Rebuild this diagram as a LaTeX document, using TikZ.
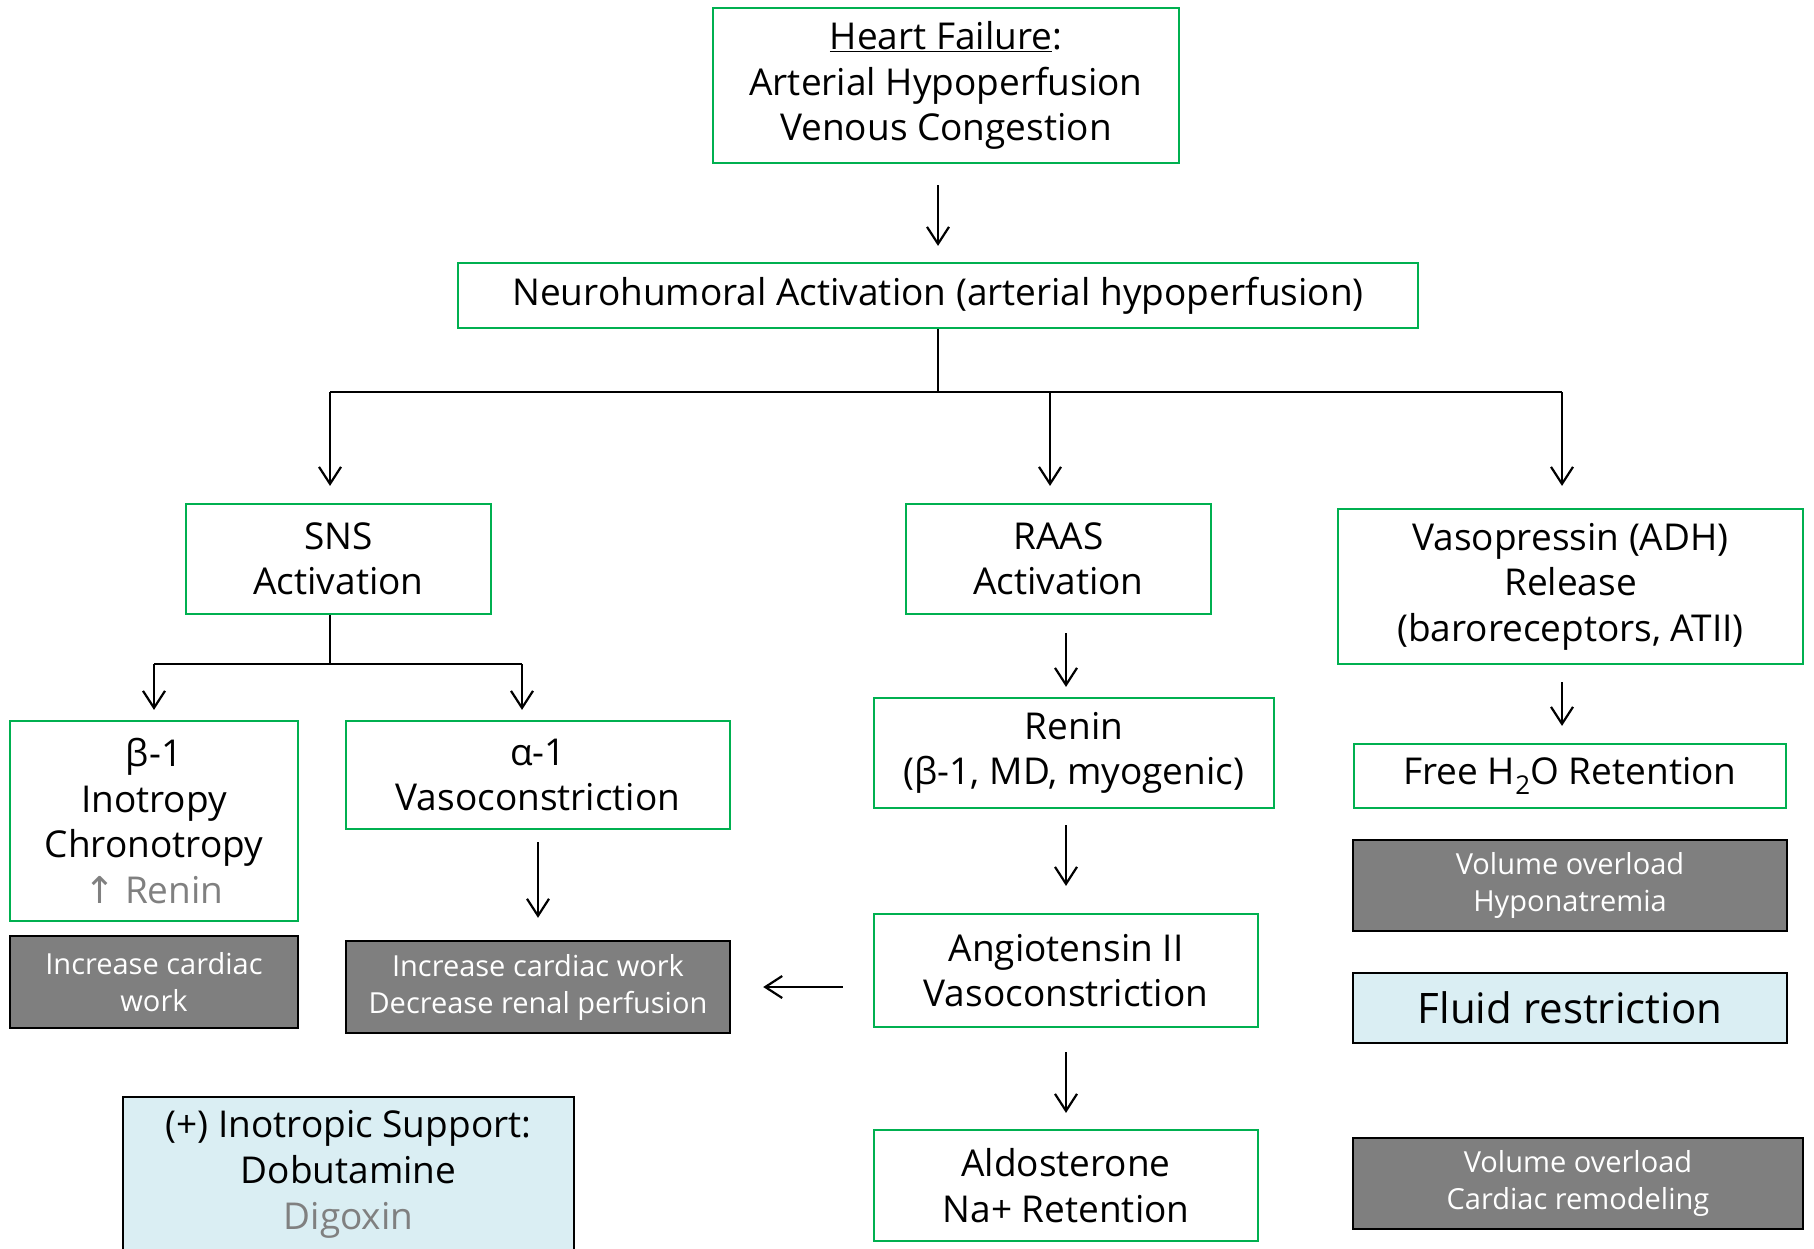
\documentclass[tikz,border=0pt]{standalone}
\usepackage{fontspec}
\setmainfont{Open Sans}
\newfontfamily\arrowfont{DejaVu Sans}
\usetikzlibrary{arrows.meta}

\definecolor{boxgreen}{HTML}{00B050}
\definecolor{effectgray}{HTML}{7F7F7F}
\definecolor{therapyblue}{HTML}{DAEEF3}
\definecolor{softgray}{HTML}{808080}

\tikzset{
  stage/.style={draw=boxgreen, line width=2.2pt, fill=white, inner sep=0pt,
    align=center, font=\fontsize{37}{45.5}\selectfont},
  effect/.style={draw=black, line width=2.4pt, fill=effectgray, text=white,
    inner sep=0pt, align=center, font=\fontsize{29}{37}\selectfont},
  therapy/.style={draw=black, line width=2.2pt, fill=therapyblue, inner sep=0pt,
    align=center},
  flow/.style={line width=2.2pt, -{Straight Barb[length=17pt,width=22pt]}},
  link/.style={line width=2.2pt},
}

\begin{document}
\begin{tikzpicture}[x=1pt,y=-1pt]
\clip (0,0) rectangle (1814,1248);

% top of the cascade
\node[stage, minimum width=466pt, minimum height=155pt] (hf) at (946,85.5)
  {\underline{Heart Failure}:\\Arterial Hypoperfusion\\Venous Congestion};
\node[stage, minimum width=960pt, minimum height=65pt] (nh) at (938,295.5)
  {Neurohumoral Activation (arterial hypoperfusion)};

% three neurohumoral arms
\node[stage, minimum width=305pt, minimum height=110pt] (sns) at (338.5,559)
  {SNS\\Activation};
\node[stage, minimum width=305pt, minimum height=110pt] (raas) at (1058.5,559)
  {RAAS\\Activation};
\node[stage, minimum width=465pt, minimum height=155pt] (vaso) at (1570.5,586.5)
  {Vasopressin (ADH)\\Release\\(baroreceptors, ATII)};

% SNS receptors
\node[stage, minimum width=288pt, minimum height=200pt] (beta) at (154,821)
  {β-1\\Inotropy\\Chronotropy\\{\color{softgray}{\arrowfont ↑} Renin}};
\node[stage, minimum width=384pt, minimum height=108pt] (alpha) at (538,775)
  {α-1\\Vasoconstriction};
\node[effect, minimum width=288pt, minimum height=92pt] (gbeta) at (154,982)
  {Increase cardiac\\work};
\node[effect, minimum width=384pt, minimum height=92pt] (galpha) at (538,987)
  {Increase cardiac work\\Decrease renal perfusion};
\node[therapy, minimum width=451pt, minimum height=155pt,
  font=\fontsize{37}{46}\selectfont] (inotrope) at (348.5,1174.5)
  {(+) Inotropic Support:\\Dobutamine\\{\color{softgray}Digoxin}};

% RAAS chain
\node[stage, minimum width=400pt, minimum height=110pt] (renin) at (1074,753)
  {Renin\\(β-1, MD, myogenic)};
\node[stage, minimum width=384pt, minimum height=113pt] (ang) at (1066,970.5)
  {Angiotensin II\\Vasoconstriction};
\node[stage, minimum width=384pt, minimum height=111pt] (aldo) at (1066,1185.5)
  {Aldosterone\\Na+ Retention};

% vasopressin chain
\node[stage, minimum width=432pt, minimum height=64pt] (free) at (1570,776)
  {Free H\textsubscript{2}O Retention};
\node[effect, minimum width=434pt, minimum height=91pt] (gvaso) at (1570,885.5)
  {Volume overload\\Hyponatremia};
\node[therapy, minimum width=434pt, minimum height=70pt,
  font=\fontsize{42}{50}\selectfont] (fluid) at (1570,1008)
  {Fluid restriction};
\node[effect, minimum width=450pt, minimum height=91pt] (galdo) at (1578,1183.5)
  {Volume overload\\Cardiac remodeling};

% branch points
\coordinate (split) at (938,392);
\coordinate (tL) at (330,392);
\coordinate (tM) at (1050,392);
\coordinate (tR) at (1562,392);
\coordinate (sSplit) at (330,664);
\coordinate (sA) at (154,664);
\coordinate (sB) at (522,664);

% connectors
\draw[flow, shorten <=21pt, shorten >=16pt] (hf.south -| nh.north) -- (nh.north);
\draw[link] (nh.south) -- (split);
\draw[link] (tL) -- (tR);
\draw[flow, shorten >=17pt] (tL) -- (tL |- sns.north);
\draw[flow, shorten >=17pt] (tM) -- (tM |- raas.north);
\draw[flow, shorten >=22pt] (tR) -- (tR |- vaso.north);

\draw[link] (sns.south -| sSplit) -- (sSplit);
\draw[link] (sA) -- (sB);
\draw[flow, shorten >=10pt] (sA) -- (sA |- beta.north);
\draw[flow, shorten >=10pt] (sB) -- (sB |- alpha.north);
\draw[flow, shorten <=12pt, shorten >=22pt] (alpha.south) -- (galpha.north);

\draw[flow, shorten <=18pt, shorten >=10pt] (raas.south -| ang.north) -- (renin.north -| ang.north);
\draw[flow, shorten <=16pt, shorten >=27pt] (renin.south -| ang.north) -- (ang.north);
\draw[flow, shorten <=24pt, shorten >=16pt] (ang.south) -- (aldo.north);
\draw[flow, shorten <=30pt, shorten >=32pt] (ang.west |- galpha.east) -- (galpha.east);

\draw[flow, shorten <=17pt, shorten >=17pt] (vaso.south -| tR) -- (free.north -| tR);
\end{tikzpicture}
\end{document}
